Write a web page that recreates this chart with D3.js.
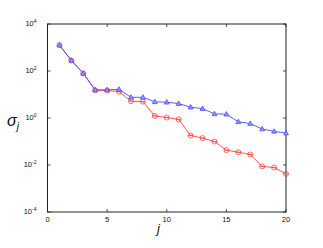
<!DOCTYPE html>
<html>
<head>
<meta charset="utf-8">
<script src="https://cdn.jsdelivr.net/npm/d3@7"></script>
<style>
  body { margin: 0; background: #fff; }
  svg text { font-family: "Liberation Sans", Arial, sans-serif; }
</style>
</head>
<body>
<div id="content"></div>
<script>
// singular values
var jIndex = [1, 2, 3, 4, 5, 6, 7, 8, 9, 10, 11, 12, 13, 14, 15, 16, 17, 18, 19, 20];
var blueSigma = [1260, 282, 79, 15.8, 15.8, 16.6, 7.6, 7.6, 4.9, 4.7, 4.1, 2.9, 2.5, 1.5, 1.45, 0.69, 0.58, 0.34, 0.27, 0.23];
var redSigma = [1260, 282, 79, 15.1, 14.8, 13.2, 5.2, 5.0, 1.22, 1.05, 0.87, 0.18, 0.14, 0.10, 0.043, 0.035, 0.028, 0.0087, 0.0078, 0.0042];
var xTicks = [0, 5, 10, 15, 20];
var yTickExp = [-4, -2, 0, 2, 4];

var width = 323, height = 248;
var padding = { top: 24, right: 37, bottom: 36, left: 47.5 };

var svg = d3.select("#content").append("svg")
    .attr("width", width)
    .attr("height", height);

var xScale = d3.scaleLinear()
    .domain([0, 20])
    .range([padding.left, width - padding.right]);

var yScale = d3.scaleLog()
    .domain([1e-4, 1e4])
    .range([height - padding.bottom, padding.top]);

var x0 = xScale.range()[0], x1 = xScale.range()[1];
var y0 = yScale.range()[0], y1 = yScale.range()[1];

// frame
svg.append("rect")
    .attr("x", x0).attr("y", y1)
    .attr("width", x1 - x0).attr("height", y0 - y1)
    .attr("fill", "none").attr("stroke", "#222").attr("stroke-width", 1);

// ticks inward, on all four sides
var tickLen = 3;
var g = svg.append("g").attr("stroke", "#222").attr("stroke-width", 0.8);
xTicks.forEach(function (t) {
    g.append("line").attr("x1", xScale(t)).attr("x2", xScale(t)).attr("y1", y0).attr("y2", y0 - tickLen);
    g.append("line").attr("x1", xScale(t)).attr("x2", xScale(t)).attr("y1", y1).attr("y2", y1 + tickLen);
});
yTickExp.forEach(function (e) {
    var y = yScale(Math.pow(10, e));
    g.append("line").attr("x1", x0).attr("x2", x0 + tickLen).attr("y1", y).attr("y2", y);
    g.append("line").attr("x1", x1).attr("x2", x1 - tickLen).attr("y1", y).attr("y2", y);
});

// tick labels
svg.append("g").selectAll("text")
    .data(xTicks)
    .enter().append("text")
    .attr("x", function (d) { return xScale(d); })
    .attr("y", y0 + 10)
    .attr("text-anchor", "middle")
    .attr("font-size", 7.5)
    .attr("fill", "#111")
    .text(function (d) { return d; });

var yl = svg.append("g").selectAll("text")
    .data(yTickExp)
    .enter().append("text")
    .attr("x", x0 - 11)
    .attr("y", function (d) { return yScale(Math.pow(10, d)) + 2; })
    .attr("text-anchor", "end")
    .attr("font-size", 7.5)
    .attr("fill", "#111");
yl.append("tspan").text("10");
yl.append("tspan")
    .attr("font-size", 5)
    .attr("dy", -3.5)
    .text(function (d) { return d; });

// series
var line = d3.line()
    .x(function (d) { return xScale(d[0]); })
    .y(function (d) { return yScale(d[1]); });

var redData = jIndex.map(function (j, i) { return [j, redSigma[i]]; });
var blueData = jIndex.map(function (j, i) { return [j, blueSigma[i]]; });

var red = "#ff4040", blue = "#4848ff";

svg.append("path").datum(redData)
    .attr("d", line).attr("fill", "none").attr("stroke", red).attr("stroke-width", 0.9);

var rm = svg.append("g").selectAll("g")
    .data(redData)
    .enter().append("g")
    .attr("transform", function (d) { return "translate(" + xScale(d[0]) + "," + yScale(d[1]) + ")"; })
    .attr("stroke", red).attr("stroke-width", 0.8).attr("fill", "none");
rm.append("circle").attr("r", 2.5);
rm.append("path").attr("d", "M-2.5,0H2.5");

svg.append("path").datum(blueData)
    .attr("d", line).attr("fill", "none").attr("stroke", blue).attr("stroke-width", 0.9);

svg.append("g").selectAll("path")
    .data(blueData)
    .enter().append("path")
    .attr("transform", function (d) { return "translate(" + xScale(d[0]) + "," + yScale(d[1]) + ")"; })
    .attr("d", "M0,-2.6L2.4,1.8L-2.4,1.8Z")
    .attr("fill", "#9a9aff").attr("stroke", blue).attr("stroke-width", 0.8);

// axis labels
var ylab = svg.append("text")
    .attr("x", 7)
    .attr("y", 126)
    .attr("font-family", "'DejaVu Serif', 'Liberation Serif', serif")
    .attr("font-style", "italic")
    .attr("font-size", 16)
    .attr("fill", "#111");
ylab.append("tspan").text("σ");
ylab.append("tspan").attr("font-size", 10).attr("dy", 4).text("j");

svg.append("text")
    .attr("x", 157)
    .attr("y", 233)
    .attr("font-family", "'DejaVu Serif', 'Liberation Serif', serif")
    .attr("font-style", "italic")
    .attr("font-size", 13)
    .attr("fill", "#111")
    .text("j");
</script>
</body>
</html>
